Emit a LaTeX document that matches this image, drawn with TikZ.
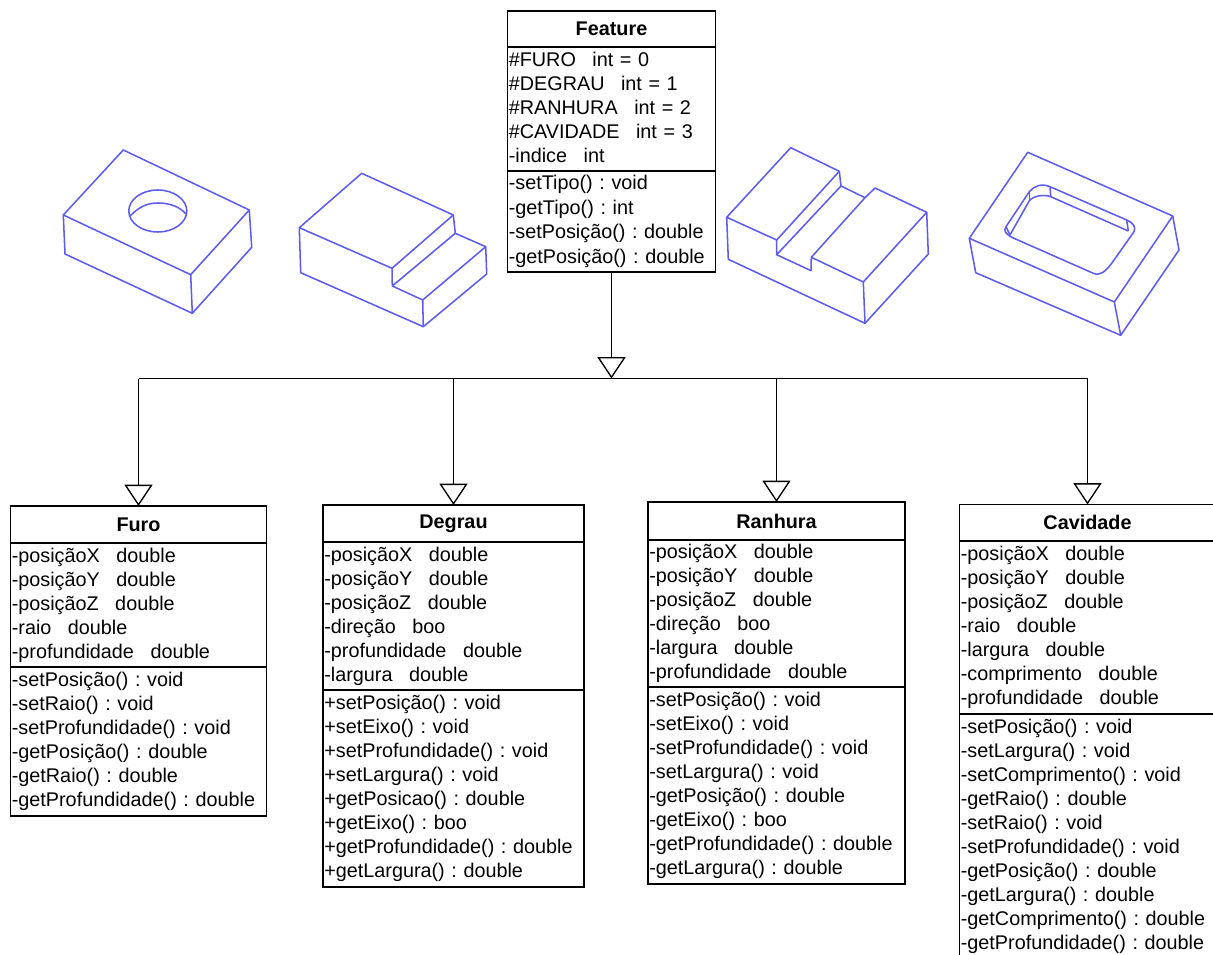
\documentclass[tikz,border=0pt]{standalone}
\usepackage{fontspec}
\setmainfont{Liberation Sans}
\usetikzlibrary{arrows.meta}
\definecolor{partblue}{RGB}{92,92,240}
\newcommand{\gap}{\hspace{.834em}}
\frenchspacing

\begin{document}
\begin{tikzpicture}[x=0.75pt,y=-0.75pt]

\tikzstyle{classtitle}=[draw,line width=1.1pt,anchor=north west,outer sep=0pt,inner xsep=1pt,inner ysep=0pt,align=center,font=\fontsize{14.85}{18}\selectfont\bfseries]
\tikzstyle{classlist}=[draw,line width=1.1pt,anchor=north west,outer sep=0pt,inner xsep=1pt,inner ysep=0pt,align=left,font=\fontsize{14.85}{18}\selectfont]
\tikzstyle{link}=[line width=.75pt]
\tikzstyle{inherit}=[line width=.75pt,-{Triangle[open,length=16pt,width=21pt,fill=white,line width=1pt]}]
\tikzstyle{part}=[draw=partblue,line width=1.15pt,line join=round]

\clip (0,0) rectangle (1213,955);

% Feature
\node[classtitle,text width=154pt,minimum height=27pt] (featuretitle) at (507.5,11) {Feature};
\node[classlist,text width=154pt,minimum height=93pt] (featureattr) at (507.5,47) {\#FURO\gap int = 0\\\#DEGRAU\gap int = 1\\\#RANHURA\gap int = 2\\\#CAVIDADE\gap int = 3\\-indice\gap int\rule[-3pt]{0pt}{0pt}};
\node[classlist,text width=154pt,minimum height=75.75pt,font=\fontsize{14.85}{18.5}\selectfont] (featureops) at (507.5,171) {-setTipo() : void\\-getTipo() : int\\-setPosição() : double\\-getPosição() : double};

% Furo
\node[classtitle,text width=190pt,minimum height=27.75pt] (furotitle) at (10.5,506) {Furo};
\node[classlist,text width=190pt,minimum height=93pt] (furoattr) at (10.5,543) {-posiçãoX\gap double\\-posiçãoY\gap double\\-posiçãoZ\gap double\\-raio\gap double\\-profundidade\gap double};
\node[classlist,text width=190pt,minimum height=111.75pt] (furoops) at (10.5,667) {-setPosição() : void\\-setRaio() : void\\-setProfundidade() : void\\-getPosição() : double\\-getRaio() : double\\-getProfundidade() : double};

% Degrau
\node[classtitle,text width=193.75pt,minimum height=27.75pt] (degrautitle) at (323,505) {Degrau};
\node[classlist,text width=193.75pt,minimum height=111pt] (degrauattr) at (323,542) {-posiçãoX\gap double\\-posiçãoY\gap double\\-posiçãoZ\gap double\\-direção\gap boo\\-profundidade\gap double\\-largura\gap double};
\node[classlist,text width=193.75pt,minimum height=147.75pt] (degrauops) at (323,690) {+setPosição() : void\\+setEixo() : void\\+setProfundidade() : void\\+setLargura() : void\\+getPosicao() : double\\+getEixo() : boo\\+getProfundidade() : double\\+getLargura() : double};

% Ranhura
\node[classtitle,text width=190.75pt,minimum height=28.5pt] (ranhuratitle) at (648,502) {Ranhura};
\node[classlist,text width=190.75pt,minimum height=110.25pt] (ranhuraattr) at (648,540) {-posiçãoX\gap double\\-posiçãoY\gap double\\-posiçãoZ\gap double\\-direção\gap boo\\-largura\gap double\\-profundidade\gap double};
\node[classlist,text width=190.75pt,minimum height=147.75pt] (ranhuraops) at (648,687) {-setPosição() : void\\-setEixo() : void\\-setProfundidade() : void\\-setLargura() : void\\-getPosição() : double\\-getEixo() : boo\\-getProfundidade() : double\\-getLargura() : double};

% Cavidade
\node[classtitle,text width=190pt,minimum height=27pt] (cavidadetitle) at (959.5,504.5) {Cavidade};
\node[classlist,text width=190pt,minimum height=129.75pt] (cavidadeattr) at (959.5,541) {-posiçãoX\gap double\\-posiçãoY\gap double\\-posiçãoZ\gap double\\-raio\gap double\\-largura\gap double\\-comprimento\gap double\\-profundidade\gap double};
\node[classlist,text width=190pt,minimum height=183pt] (cavidadeops) at (959.5,714) {-setPosição() : void\\-setLargura() : void\\-setComprimento() : void\\-getRaio() : double\\-setRaio() : void\\-setProfundidade() : void\\-getPosição() : double\\-getLargura() : double\\-getComprimento() : double\\-getProfundidade() : double};

% heranca
\coordinate (busfeature) at (611.5,378.5);
\coordinate (busfuro) at (138.5,378.5);
\coordinate (busdegrau) at (453.5,378.5);
\coordinate (busranhura) at (776.5,378.5);
\coordinate (buscavidade) at (1087.5,378.5);
\draw[inherit] (featureops.south) -- (busfeature);
\draw[link] (busfuro) -- (buscavidade);
\draw[inherit] (busfuro) -- (furotitle.north);
\draw[inherit] (busdegrau) -- (degrautitle.north);
\draw[inherit] (busranhura) -- (ranhuratitle.north);
\draw[inherit] (buscavidade) -- (cavidadetitle.north);

% peca com furo
\draw[part] (123.3,150) -- (63.3,215) -- (190.7,274.7) -- (249.3,210) -- cycle;
\draw[part] (63.3,215) -- (65,254) -- (192.3,313.3) -- (251.7,247.3) -- (249.3,210);
\draw[part] (190.7,274.7) -- (192.3,313.3);
\draw[part] (157.8,211) ellipse [x radius=29,y radius=21];
\draw[part] (130,216) .. controls (140,206) and (148,203) .. (158,203) .. controls (170,203) and (180,207) .. (186,214);

% peca com degrau
\draw[part] (361.7,173.3) -- (299.3,227.7) -- (392,268.3) -- (453.3,215) -- cycle;
\draw[part] (453.3,215) -- (455.3,233.3) -- (392.3,286) -- (392,268.3);
\draw[part] (455.3,233.3) -- (485.7,246.7) -- (422.7,300) -- (392.3,286);
\draw[part] (299.3,227.7) -- (300.7,272.7) -- (423.3,326.7) -- (486.7,274) -- (485.7,246.7);
\draw[part] (422.7,300) -- (423.3,326.7);

% peca com ranhura
\draw[part] (790.7,147.7) -- (726.7,217.3) -- (776.7,240) -- (839.3,171.3) -- cycle;
\draw[part] (839.3,171.3) -- (841,186) -- (776.7,254.7) -- (776.7,240);
\draw[part] (841,186) -- (865,197.7) -- (811.3,257.3) -- (811,270.7) -- (776.7,254.7);
\draw[part] (865,197.7) -- (875,188) -- (926.7,212.3) -- (863.3,282) -- (811.3,257.3);
\draw[part] (726.7,217.3) -- (728.3,259.3) -- (865,323.3) -- (928.3,254) -- (926.7,212.3);
\draw[part] (863.3,282) -- (865,323.3);

% peca com cavidade
\draw[part] (1027.7,152.3) -- (969.3,238.3) -- (1114.3,302) -- (1172.7,216) -- cycle;
\draw[part] (969.3,238.3) -- (975.7,272.7) -- (1120.7,335.3) -- (1179,250) -- (1172.7,216);
\draw[part] (1114.3,302) -- (1120.7,335.3);
\draw[part] (1050,186.7) -- (1126.7,220) .. controls (1134,223) and (1136,228) .. (1134,231.7) -- (1111.7,263.3) .. controls (1105,272) and (1100,276) .. (1093.3,273.3) -- (1011.7,237.3) .. controls (1006,234) and (1003,231) .. (1006,226.7) -- (1029.3,191.7) .. controls (1034,186) and (1042,183) .. (1050,186.7);
\draw[part] (1010,235) -- (1029.3,200.7) .. controls (1033,196) and (1044,194) .. (1050.7,196.7) -- (1128.3,231);
\draw[part] (1029.3,191.7) -- (1029.3,200.7);
\draw[part] (1050,186.7) -- (1050.7,196.7);
\draw[part] (1126.7,220) -- (1128.3,231);
\draw[part] (1006,226.7) -- (1010,235);

\end{tikzpicture}
\end{document}
